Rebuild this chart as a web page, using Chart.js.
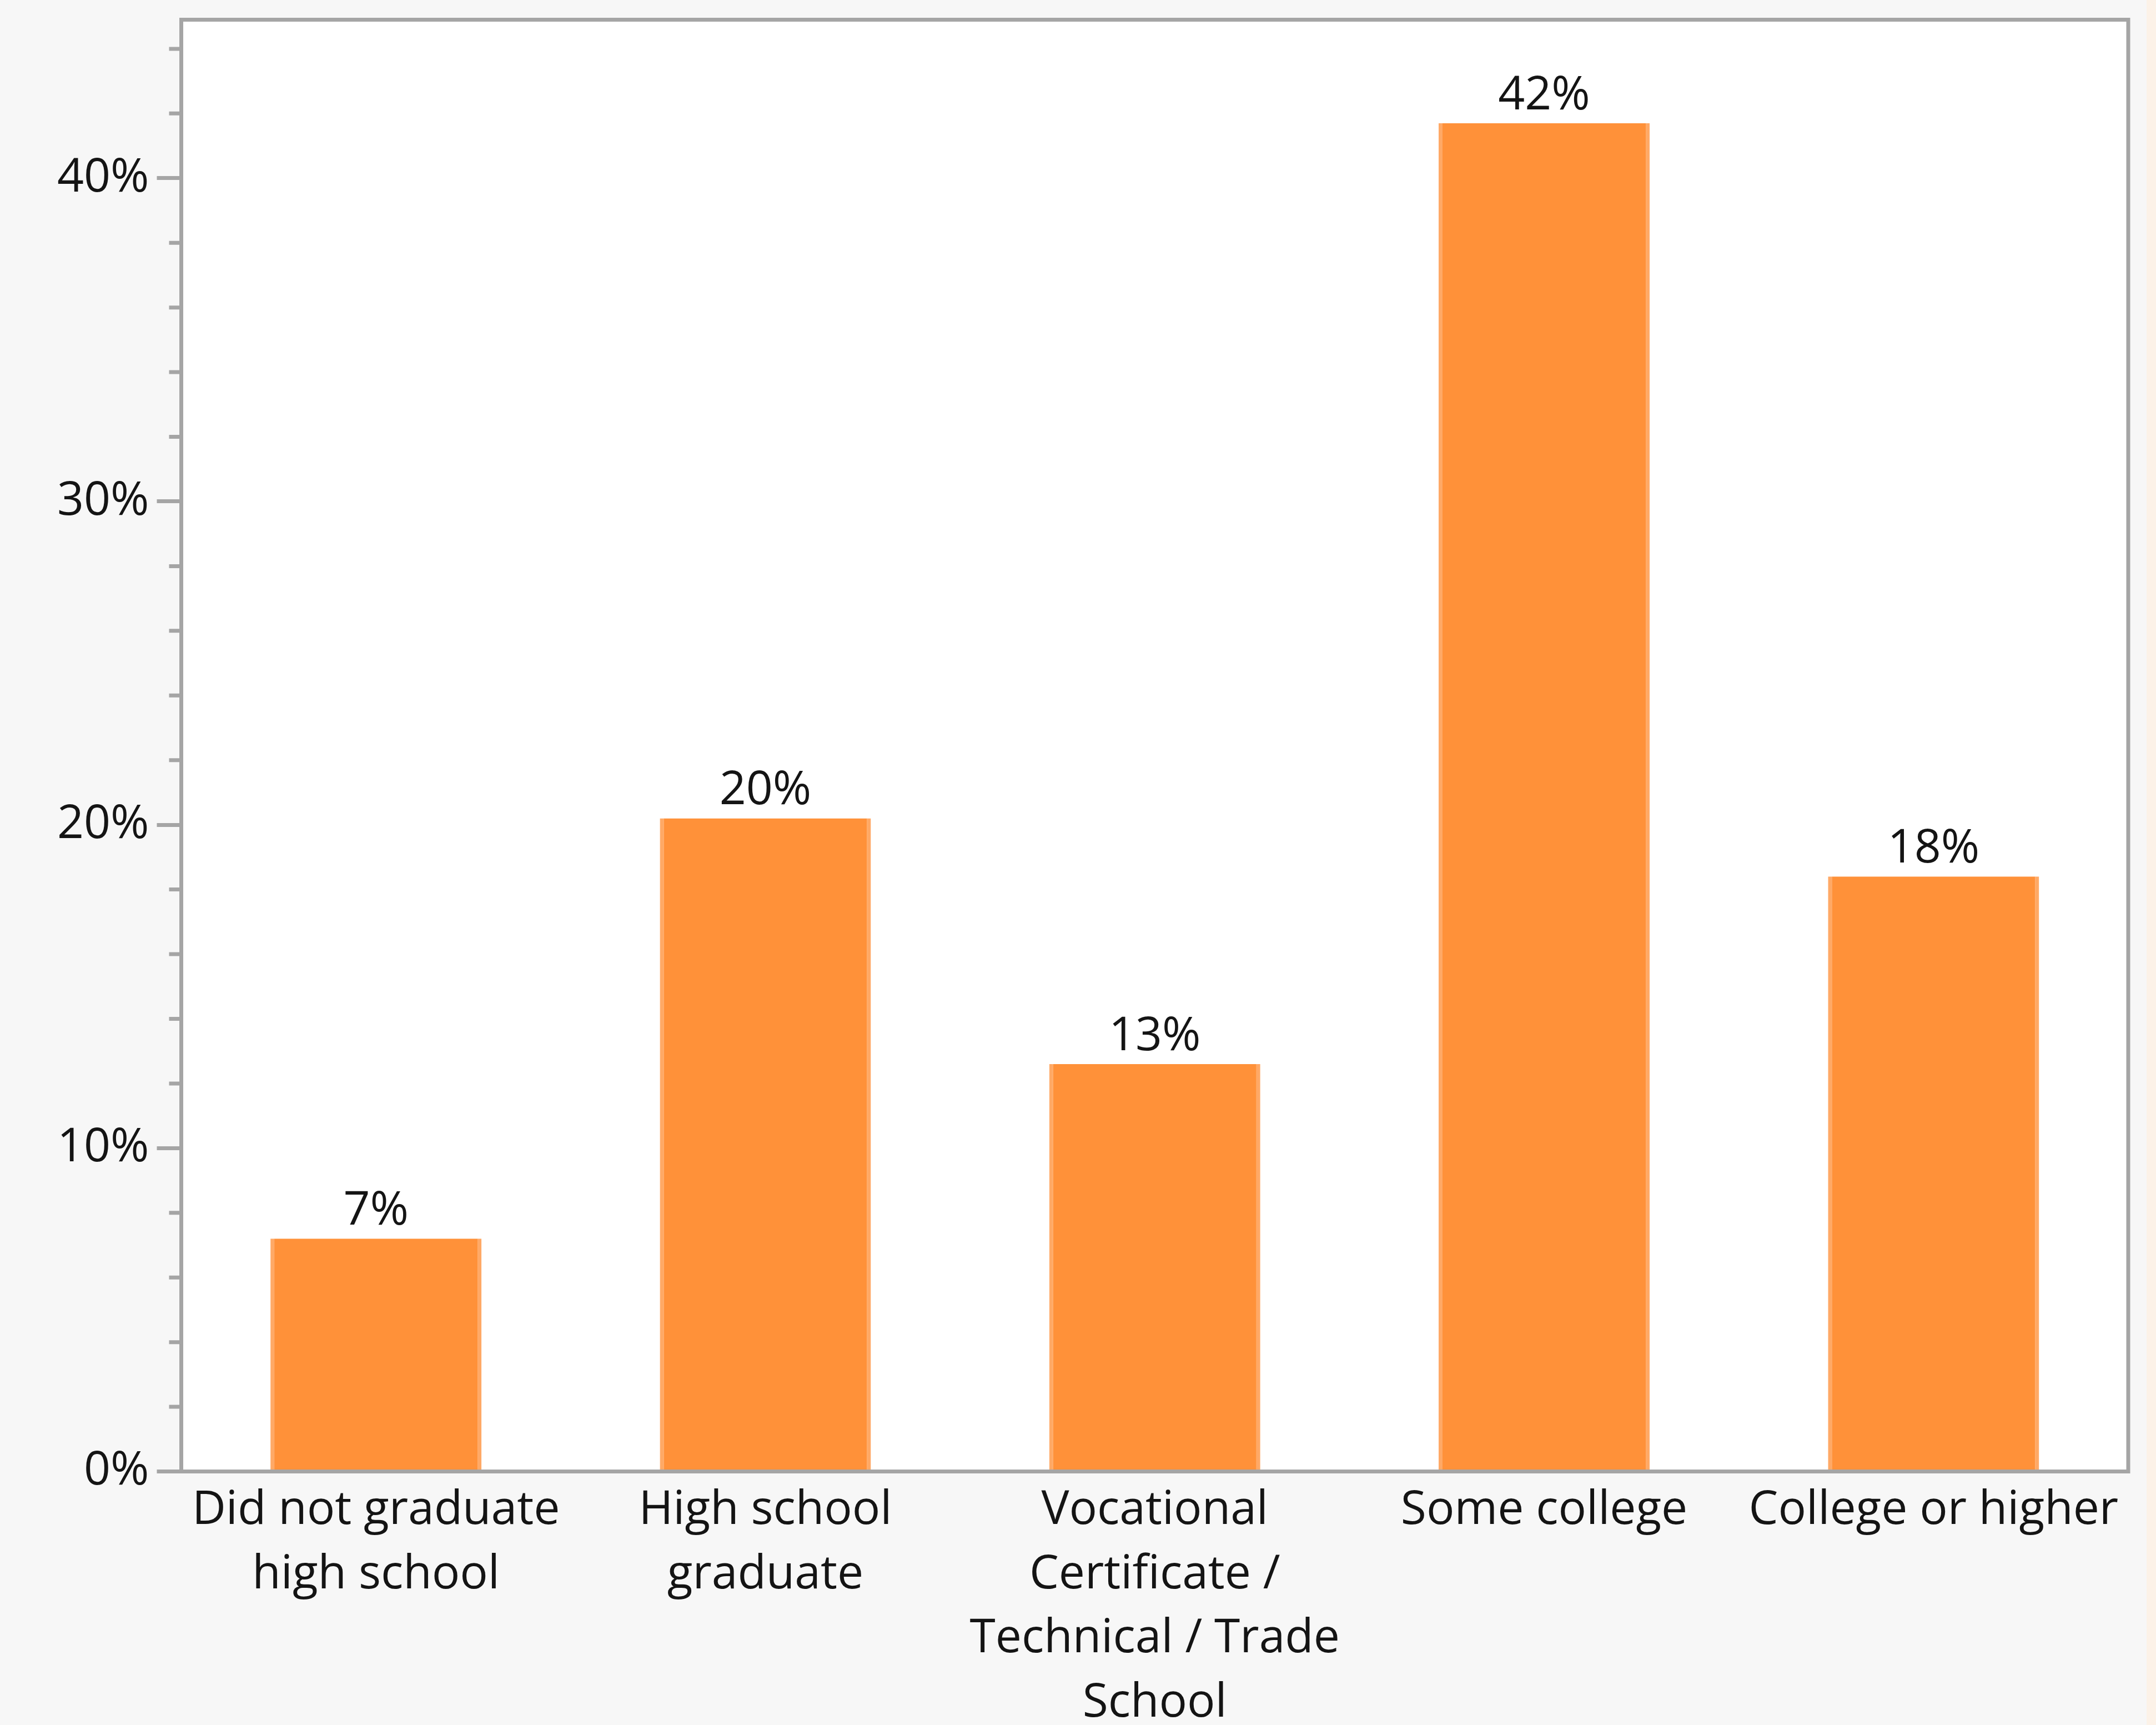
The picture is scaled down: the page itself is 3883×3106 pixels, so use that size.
<!DOCTYPE html>
<html>
<head>
<meta charset="utf-8">
<title>Education level</title>
<script src="https://cdn.jsdelivr.net/npm/chart.js@4.4.1/dist/chart.umd.min.js"></script>
<style>
    html, body { margin: 0; padding: 0; overflow: hidden; background: #f7f7f7; }
    #wrap { position: relative; width: 3883px; height: 3106px; }
    #edge { position: absolute; top: 0; right: 0; width: 17px; height: 100%; background: #fcf2e8; }
    #education { position: absolute; top: 0; left: 0; }
</style>
</head>
<body>
<div id="wrap">
    <div id="edge"></div>
    <canvas id="education" width="3883" height="3106"></canvas>
</div>
<script>
// Education level breakdown
// -----------------------------------

var categories = [
    ['Did not graduate', 'high school'],
    ['High school', 'graduate'],
    ['Vocational', 'Certificate /', 'Technical / Trade', 'School'],
    ['Some college'],
    ['College or higher']
];
var shares = [7.2, 20.2, 12.6, 41.7, 18.4];
var yTicks = [0, 10, 20, 30, 40];
var yMinorTicks = [2, 4, 6, 8, 12, 14, 16, 18, 22, 24, 26, 28, 32, 34, 36, 38, 42, 44];

(function(window, document, undefined) {

    var AXIS_GREY = '#a5a5a5';
    var TEXT = '#141414';
    var FONT = "'Open Sans', 'Noto Sans', sans-serif";
    var FONT_SIZE = 84;

    /*-----------------plot frame + white plot area-----------------*/
    var framePlugin = {
        id: 'frame',
        beforeDraw: function(chart) {
            var a = chart.chartArea, ctx = chart.ctx;
            ctx.save();
            ctx.fillStyle = '#ffffff';
            ctx.fillRect(a.left, a.top, a.right - a.left, a.bottom - a.top);
            ctx.restore();
        },
        afterDatasetsDraw: function(chart) {
            var a = chart.chartArea, ctx = chart.ctx;
            var y = chart.scales.y;
            ctx.save();
            ctx.strokeStyle = AXIS_GREY;
            ctx.lineWidth = 7;
            ctx.strokeRect(a.left, a.top, a.right - a.left, a.bottom - a.top);

            // short minor ticks every 2%
            ctx.beginPath();
            yMinorTicks.forEach(function(v) {
                var py = y.getPixelForValue(v);
                ctx.moveTo(a.left - 22, py);
                ctx.lineTo(a.left, py);
            });
            ctx.stroke();
            ctx.restore();
        }
    };

    /*-----------------value labels above bars-----------------*/
    var valueLabels = {
        id: 'valueLabels',
        afterDatasetsDraw: function(chart) {
            var ctx = chart.ctx;
            var meta = chart.getDatasetMeta(0);
            ctx.save();
            ctx.font = FONT_SIZE + 'px ' + FONT;
            ctx.fillStyle = TEXT;
            ctx.textAlign = 'center';
            ctx.textBaseline = 'alphabetic';
            meta.data.forEach(function(bar, i) {
                ctx.fillText(Math.round(shares[i]) + '%', bar.x, bar.y - 25);
            });
            ctx.restore();
        }
    };

    var ctx = document.getElementById('education').getContext('2d');
    var chart = new Chart(ctx, {
        type: 'bar',
        data: {
            labels: categories,
            datasets: [{
                data: shares,
                backgroundColor: '#ff9139',
                borderColor: '#ffa966',
                borderWidth: { left: 7, right: 7, top: 0, bottom: 0 },
                borderSkipped: false,
                barPercentage: 0.542,
                categoryPercentage: 1
            }]
        },
        options: {
            responsive: false,
            devicePixelRatio: 1,
            animation: false,
            layout: { padding: { top: 35.5, right: 50, left: 0, bottom: 0 } },
            plugins: {
                legend: { display: false },
                tooltip: { enabled: false }
            },
            scales: {
                x: {
                    grid: { display: false },
                    border: { display: true, color: AXIS_GREY, width: 7 },
                    ticks: {
                        color: TEXT,
                        padding: 5,
                        maxRotation: 0,
                        autoSkip: false,
                        font: { family: FONT, size: FONT_SIZE, lineHeight: 1.376 }
                    },
                    afterFit: function(scale) {
                        scale.height = 3106 - 2649.5;
                        scale.paddingLeft = 0;
                        scale.paddingRight = 0;
                    }
                },
                y: {
                    min: 0,
                    max: 44.9,
                    afterBuildTicks: function(scale) {
                        scale.ticks = yTicks.map(function(v) { return { value: v }; });
                    },
                    grid: {
                        drawOnChartArea: false,
                        drawTicks: true,
                        tickLength: 44,
                        tickWidth: 7,
                        tickColor: AXIS_GREY
                    },
                    border: { display: true, color: AXIS_GREY, width: 7 },
                    ticks: {
                        color: TEXT,
                        padding: 14,
                        font: { family: FONT, size: FONT_SIZE },
                        callback: function(v) { return v + '%'; }
                    },
                    afterFit: function(scale) {
                        scale.width = 326.5;
                        scale.paddingTop = 0;
                        scale.paddingBottom = 0;
                    }
                }
            }
        },
        plugins: [framePlugin, valueLabels]
    });

})(window, document);
</script>
</body>
</html>
